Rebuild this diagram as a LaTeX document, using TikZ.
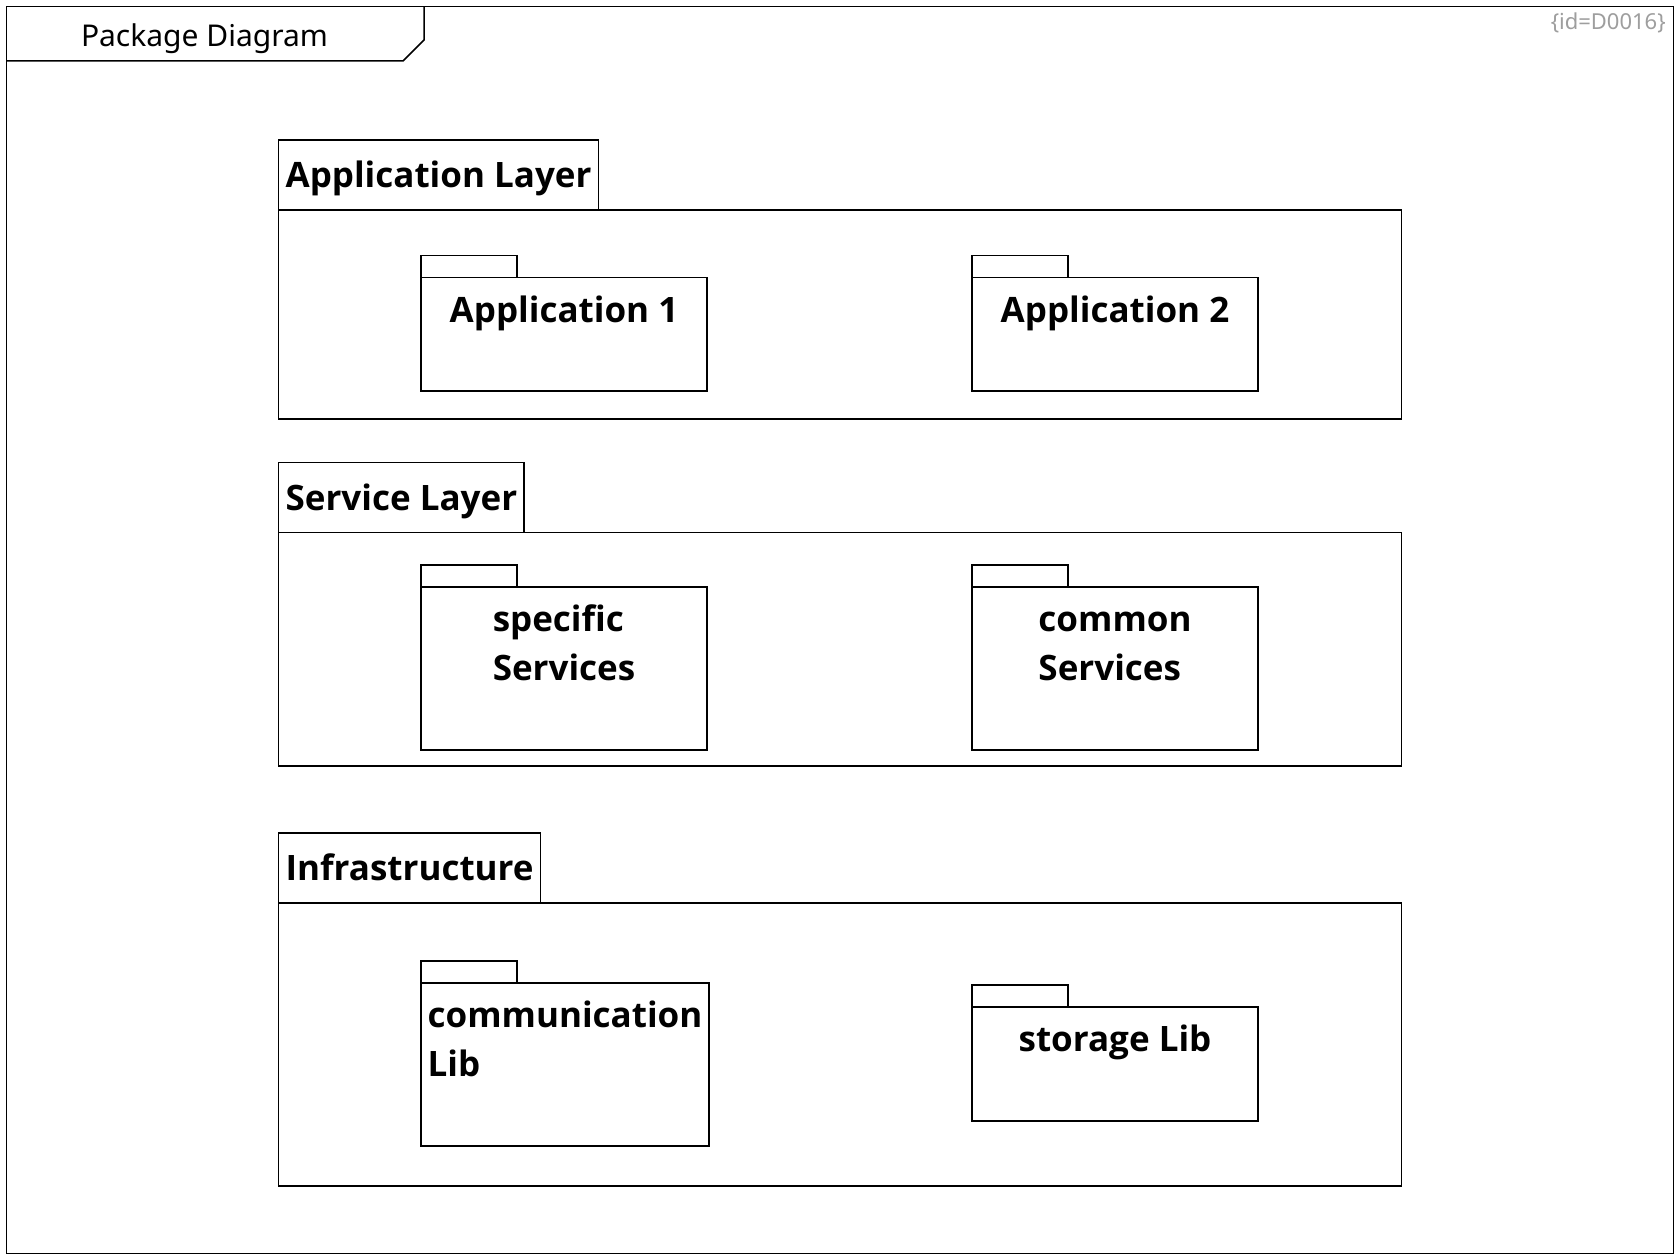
\documentclass[tikz,border=0pt]{standalone}
\usepackage{fontspec}
\setmainfont{Noto Sans}
\newfontfamily\pkgfont{Open Sans}
\usetikzlibrary{positioning}

\begin{document}
\begin{tikzpicture}[x=1pt, y=-1pt, line width=1.5pt, every node/.style={outer sep=0pt}, node distance=19.5pt,
  layer/.style={draw, anchor=north west, minimum width=1123pt},
  layertab/.style={draw, anchor=south west, minimum height=70pt, inner xsep=7pt, text height=25pt, text depth=0pt, font=\fontsize{35}{49}\pkgfont\bfseries},
  pkg/.style={draw, anchor=north west, minimum width=286pt},
  pkgtab/.style={draw, anchor=south west, minimum width=96pt, minimum height=22pt},
  pkgname/.style={inner sep=0pt, align=left, text height=25pt, font=\fontsize{35}{49}\pkgfont\bfseries},
  pkgname2/.style={pkgname, text height=74pt}]
\useasboundingbox[fill=white] (0,0) rectangle (1680,1260);
% frame
\draw (6.4,6.4) rectangle (1673.5,1253.6);
\draw (6.4,61) -- (403,61) -- (424,40) -- (424,6.4);
\node[anchor=base, font=\fontsize{30}{36}\selectfont] (title) at (204.5,47) {Package Diagram};
\node[anchor=base east, text=black!38, font=\fontsize{22}{26}\selectfont] (docid) at (1669,30) {\{id=D0016\}};
% layers
\node[layer, minimum height=209pt] (applayer) at (278.6,210) {};
\node[layertab] (applayertab) at (applayer.north west) {Application Layer};
\node[layer, minimum height=233.5pt] (svclayer) at (278.6,532.5) {};
\node[layertab] (svclayertab) at (svclayer.north west) {Service Layer};
\node[layer, minimum height=283pt] (infra) at (278.6,903) {};
\node[layertab] (infratab) at (infra.north west) {Infrastructure};
% packages
\node[pkg, minimum height=113.5pt] (app1) at (421,277.5) {};
\node[pkgtab] (app1tab) at (app1.north west) {};
\node[pkgname, below=of app1.north] (app1name) {Application 1};
\node[pkg, minimum height=113.5pt] (app2) at (972,277.5) {};
\node[pkgtab] (app2tab) at (app2.north west) {};
\node[pkgname, below=of app2.north] (app2name) {Application 2};
\node[pkg, minimum height=163pt] (specsvc) at (421,587) {};
\node[pkgtab] (specsvctab) at (specsvc.north west) {};
\node[pkgname2, below=of specsvc.north] (specsvcname) {specific\\Services};
\node[pkg, minimum height=163pt] (commsvc) at (972,587) {};
\node[pkgtab] (commsvctab) at (commsvc.north west) {};
\node[pkgname2, below=of commsvc.north] (commsvcname) {common\\Services};
\node[pkg, minimum width=288pt, minimum height=163pt] (commlib) at (421,983) {};
\node[pkgtab] (commlibtab) at (commlib.north west) {};
\node[pkgname2, below=of commlib.north] (commlibname) {communication\\Lib};
\node[pkg, minimum height=114pt] (storlib) at (972,1007) {};
\node[pkgtab] (storlibtab) at (storlib.north west) {};
\node[pkgname, below=of storlib.north] (storlibname) {storage Lib};
\end{tikzpicture}
\end{document}
